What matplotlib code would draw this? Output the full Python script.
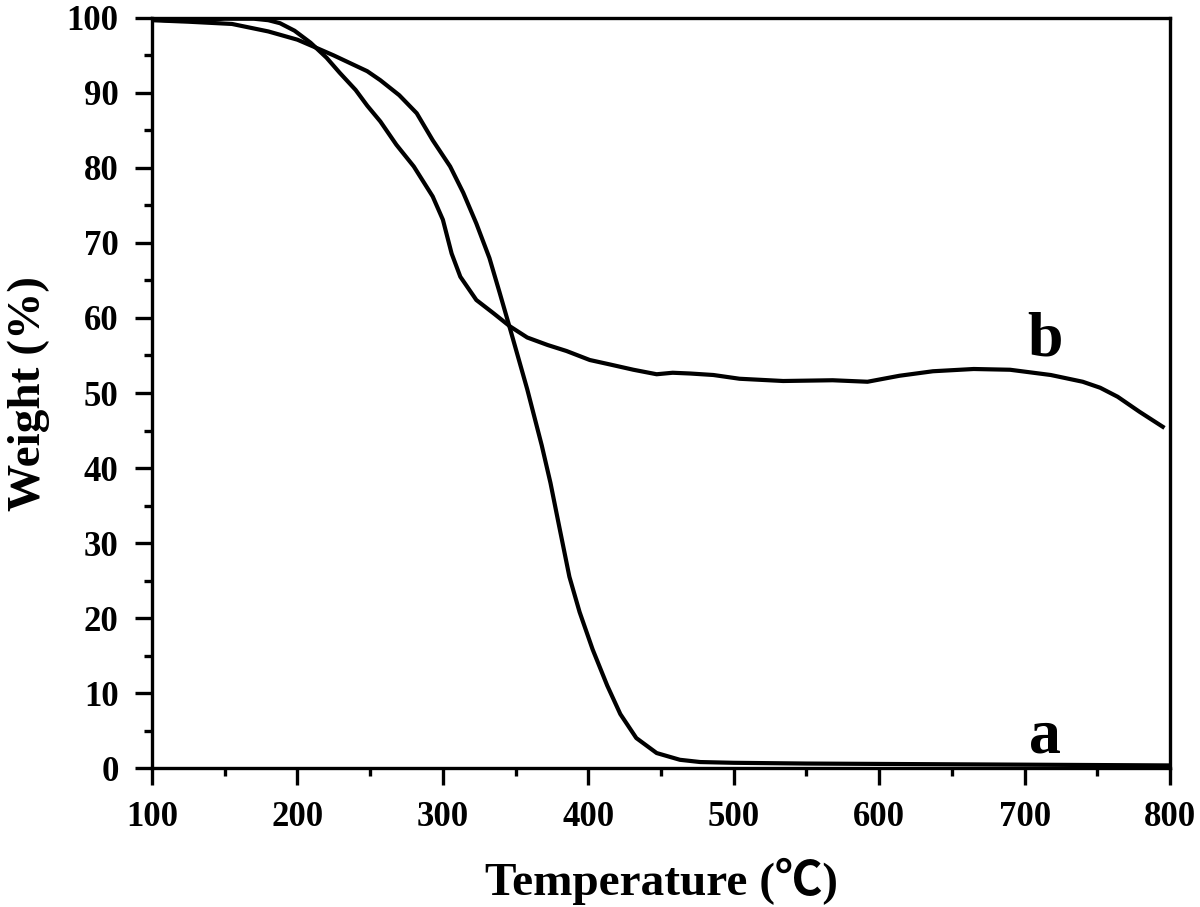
"""
TGA curves of samples a and b: weight (%) vs temperature.
Saves: out.png
"""

import matplotlib
matplotlib.use("Agg")
import matplotlib.pyplot as plt
from matplotlib.ticker import MultipleLocator

# curve a
temp_a = [100, 125, 155, 180, 200, 212, 225, 248, 257, 270, 282, 293, 305,
          314, 323, 332, 339, 346, 352, 358, 368, 374, 380, 387, 394, 403,
          413, 422, 433, 447, 463, 477, 500, 550, 600, 650, 700, 750, 800]
weight_a = [99.7, 99.5, 99.2, 98.2, 97.1, 96.1, 95.0, 92.9, 91.7, 89.7, 87.3,
            83.7, 80.2, 76.7, 72.6, 68.0, 63.4, 58.7, 54.6, 50.5, 43.0, 38.0,
            32.2, 25.5, 20.8, 15.8, 11.0, 7.2, 4.0, 2.0, 1.1, 0.8, 0.7, 0.6,
            0.55, 0.5, 0.45, 0.4, 0.35]

# curve b
temp_b = [100, 120, 150, 170, 180, 188, 198, 209, 220, 229, 240, 248, 257,
          268, 280, 293, 300, 306, 312, 323, 335, 346, 358, 372, 385, 401,
          415, 431, 447, 458, 470, 486, 504, 534, 568, 592, 614, 637, 665,
          690, 718, 740, 752, 764, 779, 795]
weight_b = [99.8, 99.6, 99.9, 99.9, 99.7, 99.3, 98.3, 96.7, 94.7, 92.7, 90.4,
            88.3, 86.2, 83.1, 80.2, 76.2, 73.1, 68.6, 65.5, 62.4, 60.6, 58.9,
            57.4, 56.4, 55.6, 54.4, 53.8, 53.1, 52.5, 52.7, 52.6, 52.4, 51.9,
            51.6, 51.7, 51.5, 52.3, 52.9, 53.2, 53.1, 52.4, 51.5, 50.7, 49.5,
            47.5, 45.5]

labels = ["a", "b"]
label_pos = [(714, 4.1), (714, 57.0)]

serif = ["Liberation Serif", "DejaVu Sans"]
plt.rcParams["font.family"] = serif
plt.rcParams["font.weight"] = "bold"

fig = plt.figure(figsize=(12, 9.07), dpi=100)
ax = fig.add_axes([0.1267, 0.1532, 0.8483, 0.827])

ax.plot(temp_a, weight_a, color="black", linewidth=3)
ax.plot(temp_b, weight_b, color="black", linewidth=3)

for lab, (x, y) in zip(labels, label_pos):
    ax.text(x, y, lab, fontsize=46, fontweight="bold", ha="center",
            va="center")

ax.set_xlim(100, 800)
ax.set_ylim(0, 100)
ax.xaxis.set_major_locator(MultipleLocator(100))
ax.xaxis.set_minor_locator(MultipleLocator(50))
ax.yaxis.set_major_locator(MultipleLocator(10))
ax.yaxis.set_minor_locator(MultipleLocator(5))

for s in ax.spines.values():
    s.set_linewidth(2.4)
ax.tick_params(which="major", direction="out", length=12, width=2.4,
               labelsize=25, pad=12)
ax.tick_params(which="minor", direction="out", length=6, width=2.4)
for t in ax.get_xticklabels() + ax.get_yticklabels():
    t.set_fontweight("bold")

ax.set_xlabel("Temperature (℃)", fontsize=34, fontweight="bold", labelpad=17,
              family=["Liberation Serif", "Noto Sans CJK SC"])
ax.set_ylabel("Weight (%)", fontsize=34, fontweight="bold", labelpad=12)

fig.savefig("out.png", dpi=100)
plt.close()
